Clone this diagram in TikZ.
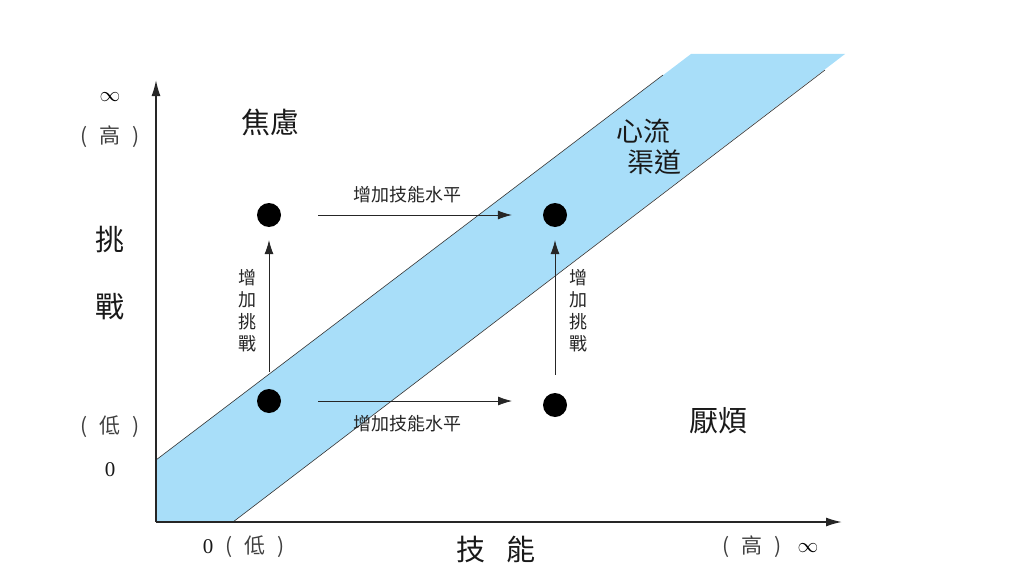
\documentclass[tikz,border=0pt]{standalone}
\usepackage{fontspec}
\usetikzlibrary{arrows.meta}
\newfontfamily\cjk{Noto Sans CJK TC}
\newfontfamily\rmnum{Liberation Serif}
\newcommand{\paren}[1]{(\hspace{12pt}#1\hspace{12pt})}
\definecolor{flowblue}{RGB}{168,222,249}

\begin{document}
\begin{tikzpicture}[x=1pt,y=-1pt,
	dot/.style={circle,fill=black,inner sep=0pt,minimum size=24pt},
	small/.style={font=\cjk\fontsize{18}{22}\selectfont,text=black!85,inner sep=0pt},
	big/.style={font=\cjk\fontsize{29}{32}\selectfont,text=black!90,inner sep=0pt},
	tick/.style={font=\cjk\fontsize{21}{24}\selectfont,text=black!75,inner sep=0pt},
	move/.style={-{Latex[length=14pt,width=9pt]},black!85,line width=0.8pt}]

	\useasboundingbox (0,0) rectangle (1015,578);

	% flow channel
	\fill[flowblue] (156,460) -- (691,54) -- (845,54) -- (233,522) -- (156,522) -- cycle;
	\draw[black!80,line width=0.6pt] (156,460) -- (663,75);
	\draw[black!80,line width=0.6pt] (233,522) -- (825,70);

	% axes
	\coordinate (o) at (156,522);
	\coordinate (ytip) at (156,80);
	\coordinate (xtip) at (842,522);
	\draw[-{Latex[length=16pt,width=9pt]},black!85,line width=1.6pt] (o) -- (ytip);
	\draw[-{Latex[length=16pt,width=9pt]},black!85,line width=1.6pt] (o) -- (xtip);

	% four states
	\node[dot] (n1) at (269,401) {};
	\node[dot] (n2) at (555,405) {};
	\node[dot] (n3) at (555,215) {};
	\node[dot] (n4) at (269,215) {};

	\draw[move,shorten <=37pt,shorten >=31pt] (n4) -- (n3);
	\draw[move,shorten <=49pt,shorten >=43pt] (n1.center) -- (n1.center -| n2);
	\draw[move,shorten <=17pt,shorten >=13pt] (n1) -- (n4);
	\draw[move,shorten <=18pt,shorten >=13pt] (n2) -- (n3);

	\node[small] (skillhi) at (407,195) {增加技能水平};
	\node[small] (skilllo) at (407,424) {增加技能水平};
	\foreach \n / \x / \y in {chall1/247/311, chall2/578/311}
	{
		\node[small,align=center] (\n) at (\x,\y) {增\\加\\挑\\戰};
	};

	% region names
	\node[big] (anx) at (270,122) {焦慮};
	\node[big,font=\cjk\fontsize{27}{32}\selectfont] (flow1) at (643,131) {心流};
	\node[big,font=\cjk\fontsize{27}{32}\selectfont] (flow2) at (654,162) {渠道};
	\node[big] (bore) at (718,421) {厭煩};

	% axis titles
	\node[big] (ch1) at (110,240) {挑};
	\node[big] (ch2) at (110,307) {戰};
	\node[big] (sk) at (496,549) {技\hspace{22pt}能};

	% axis ends
	\node[tick,text=black,font=\fontsize{22}{24}\selectfont] (yinf) at (110,97) {$\infty$};
	\node[tick] (yhi) at (110,137) {\paren{高}};
	\node[tick] (ylo) at (110,427) {\paren{低}};
	\node[tick,text=black!90,font=\rmnum\fontsize{21}{24}\selectfont] (yzero) at (110,470) {0};
	\node[tick,text=black!90,font=\rmnum\fontsize{21}{24}\selectfont] (xzero) at (208,547) {0};
	\node[tick] (xlo) at (255,547) {\paren{低}};
	\node[tick] (xhi) at (752,547) {\paren{高}};
	\node[tick,text=black,font=\fontsize{22}{24}\selectfont] (xinf) at (808,548) {$\infty$};

\end{tikzpicture}
\end{document}
